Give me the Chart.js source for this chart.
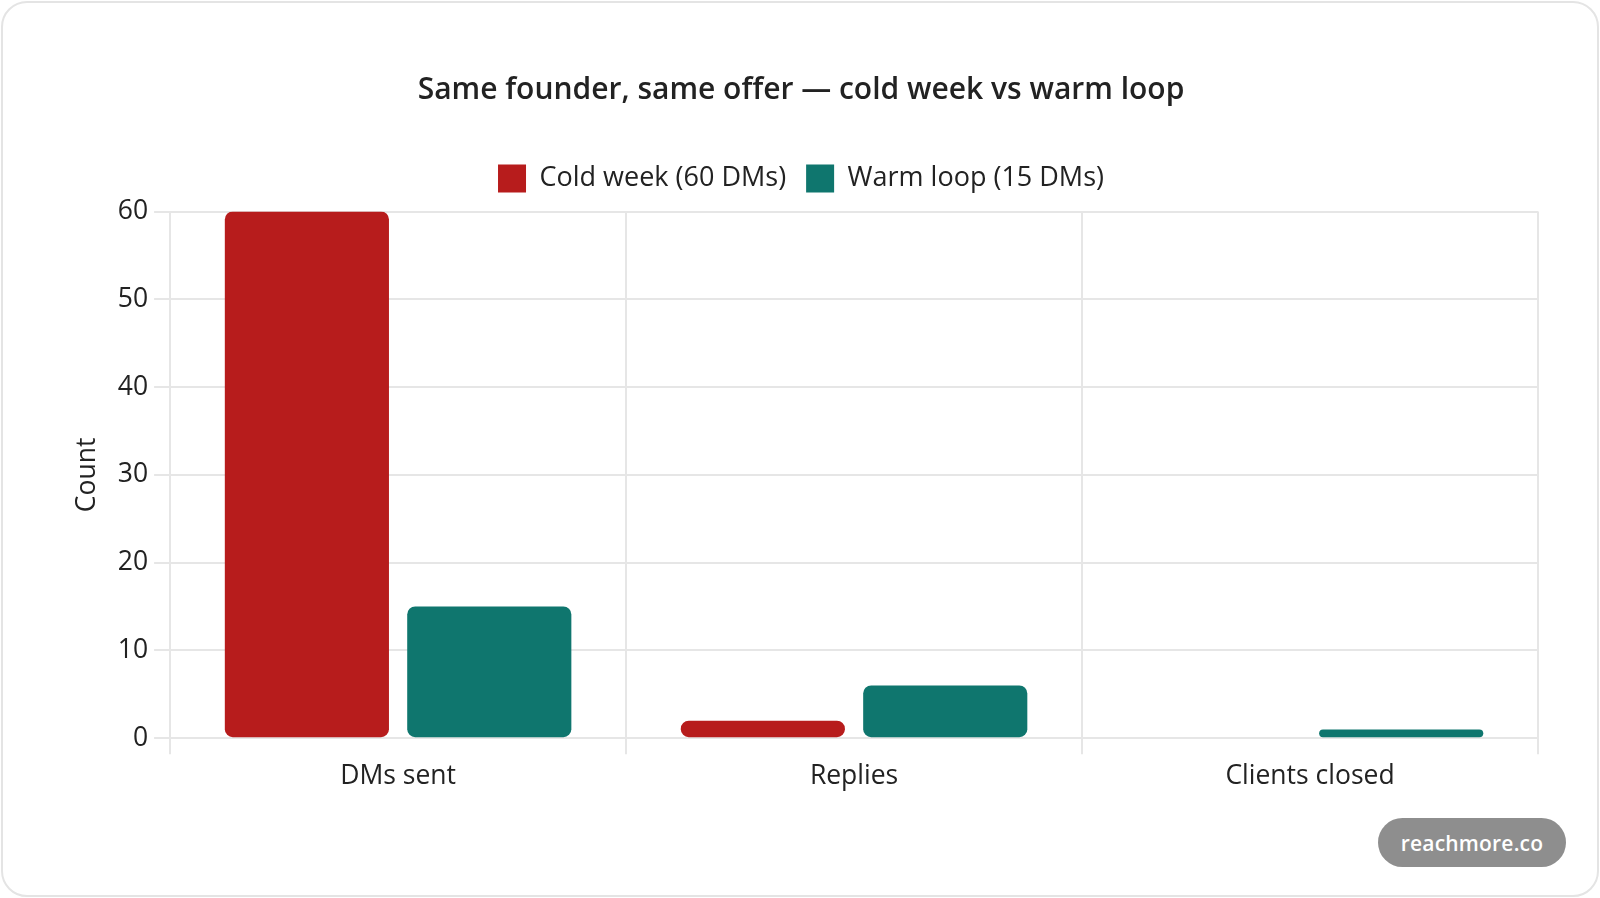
<!DOCTYPE html>
<html>
<head>
<meta charset="utf-8">
<script src="https://cdn.jsdelivr.net/npm/chart.js@4/dist/chart.umd.min.js"></script>
<style>
  html, body { margin: 0; padding: 0; background: #ffffff; }
  body { width: 1600px; height: 898px; position: relative; overflow: hidden; font-family: "Open Sans", sans-serif; }
  #card { position: absolute; left: 1px; top: 1px; width: 1598px; height: 896px; box-sizing: border-box;
          border: 2px solid #e4e4e4; border-radius: 26px; background: #fff; }
  #wrap { position: absolute; left: 0; top: 0; width: 1600px; height: 898px; }
  #badge { position: absolute; left: 1378px; top: 818px; width: 188px; height: 49px; border-radius: 25px;
           background: #8e8e8e; color: #fff; font: 600 21px "Open Sans", sans-serif; display: flex;
           align-items: center; justify-content: center; letter-spacing: 0.2px; }
</style>
</head>
<body>
<div id="card"></div>
<div id="wrap"><canvas id="c"></canvas></div>
<div id="badge">reachmore.co</div>
<script>
const categories = ['DMs sent', 'Replies', 'Clients closed'];
const coldLabel = 'Cold week (60 DMs)';
const warmLabel = 'Warm loop (15 DMs)';
const coldWeek = [60, 2, 0];
const warmLoop = [15, 6, 1];
const yMin = 0, yMax = 60, yStep = 10;
const titleText = 'Same founder, same offer \u2014 cold week vs warm loop';
const yTitle = 'Count';

const FONT = '"Open Sans", sans-serif';
Chart.defaults.font.family = FONT;
Chart.defaults.color = '#222';

const legendGap = {
  id: 'legendGap',
  beforeInit(chart) {
    const fit = chart.legend.fit;
    chart.legend.fit = function () { fit.bind(chart.legend)(); this.height += 9; };
  }
};

new Chart(document.getElementById('c'), {
  type: 'bar',
  data: {
    labels: categories,
    datasets: [
      { label: coldLabel, data: coldWeek, backgroundColor: '#B71C1C', borderRadius: 8, borderSkipped: false },
      { label: warmLabel, data: warmLoop, backgroundColor: '#0F766E', borderRadius: 8, borderSkipped: false }
    ]
  },
  plugins: [legendGap],
  options: {
    responsive: true,
    maintainAspectRatio: false,
    animation: false,
    devicePixelRatio: 1,
    layout: { padding: { left: 64, right: 62, top: 52, bottom: 100 } },
    plugins: {
      title: { display: true, text: titleText, color: '#222',
               font: { size: 30, weight: '600' }, padding: { top: 20, bottom: 36.5 } },
      legend: { position: 'top',
                labels: { boxWidth: 28, boxHeight: 28, padding: 20, color: '#222', font: { size: 27 } } },
      tooltip: { enabled: false }
    },
    scales: {
      x: {
        grid: { color: '#e6e6e6', lineWidth: 2, tickLength: 16 },
        border: { color: '#e6e6e6', width: 2 },
        ticks: { color: '#222', font: { size: 26.5 }, padding: 6 }
      },
      y: {
        min: yMin, max: yMax,
        grid: { color: '#e6e6e6', lineWidth: 2, tickLength: 16 },
        border: { color: '#e6e6e6', width: 2 },
        ticks: { stepSize: yStep, color: '#222', font: { size: 26.5 }, padding: 6 },
        title: { display: true, text: yTitle, color: '#222', font: { size: 26.5 }, padding: { top: 8, bottom: 8 } }
      }
    }
  }
});
</script>
</body>
</html>
